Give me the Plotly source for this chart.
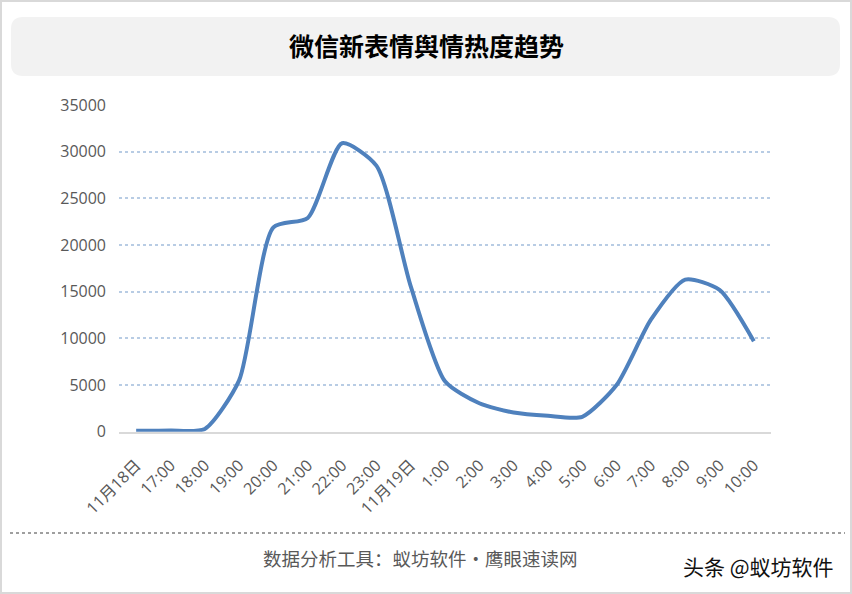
import plotly.graph_objects as go

W, H = 852, 594

categories = ["11月18日", "17:00", "18:00", "19:00", "20:00", "21:00", "22:00", "23:00",
              "11月19日", "1:00", "2:00", "3:00", "4:00", "5:00", "6:00", "7:00",
              "8:00", "9:00", "10:00"]
heat = [100, 120, 300, 5500, 21900, 22900, 30900, 28500,
        15600, 5400, 3050, 2050, 1700, 1600, 5000, 12000,
        16300, 15200, 9700]
y_ticks = [0, 5000, 10000, 15000, 20000, 25000, 30000, 35000]

title_text = "微信新表情舆情热度趋势"
footer_text = "数据分析工具：蚁坊软件・鹰眼速读网"
watermark_text = "头条 @蚁坊软件"


def px(x):
    return x / W


def py(y):
    return 1 - y / H


def rounded_rect(x0, y0, x1, y1, r):
    return (
        f"M {px(x0 + r)} {py(y0)} "
        f"L {px(x1 - r)} {py(y0)} "
        f"Q {px(x1)} {py(y0)} {px(x1)} {py(y0 + r)} "
        f"L {px(x1)} {py(y1 - r)} "
        f"Q {px(x1)} {py(y1)} {px(x1 - r)} {py(y1)} "
        f"L {px(x0 + r)} {py(y1)} "
        f"Q {px(x0)} {py(y1)} {px(x0)} {py(y1 - r)} "
        f"L {px(x0)} {py(y0 + r)} "
        f"Q {px(x0)} {py(y0)} {px(x0 + r)} {py(y0)} Z"
    )


fig = go.Figure()
fig.add_trace(go.Scatter(
    x=list(range(len(categories))), y=heat, mode="lines",
    line=dict(color="#4f81bd", width=4, shape="spline", smoothing=0.65),
    hoverinfo="skip", showlegend=False,
))

plot_x0, plot_x1 = 119, 771
plot_y0, plot_y1 = 105, 431.7

fig.update_layout(
    template="none",
    width=W, height=H,
    margin=dict(l=0, r=0, t=0, b=0, autoexpand=False),
    paper_bgcolor="white", plot_bgcolor="white",
    font=dict(family="Open Sans, Noto Sans CJK SC, sans-serif", color="#595959"),
    xaxis=dict(
        domain=[px(plot_x0), px(plot_x1)],
        range=[-0.5, len(categories) - 0.5],
        tickmode="array", tickvals=list(range(len(categories))), ticktext=categories,
        tickangle=-45, tickfont=dict(size=16, color="#595959",
                                     family="Open Sans, Noto Sans CJK SC, sans-serif"),
        showgrid=False, zeroline=False, automargin=False,
        showline=True, linecolor="#d9d9d9", linewidth=2,
        ticks="", ticklabelstandoff=16, fixedrange=True,
    ),
    yaxis=dict(
        domain=[py(plot_y1), py(plot_y0)],
        range=[0, 35000],
        tickmode="array", tickvals=y_ticks, ticktext=[str(v) for v in y_ticks],
        tickfont=dict(size=16, color="#595959"),
        showgrid=True, gridcolor="#b8cce4", griddash="dot", gridwidth=1.6,
        zeroline=False, showline=False, ticks="", ticklabelstandoff=12,
        automargin=False, fixedrange=True,
    ),
    shapes=[
        dict(type="rect", xref="paper", yref="paper",
             x0=px(1), y0=py(1), x1=px(W - 1), y1=py(H - 1),
             line=dict(color="#d9d9d9", width=2), fillcolor="rgba(0,0,0,0)", layer="below"),
        dict(type="path", xref="paper", yref="paper",
             path=rounded_rect(11, 17, 840, 76, 12),
             fillcolor="#f2f2f2", line=dict(width=0), layer="below"),
        dict(type="line", xref="paper", yref="paper",
             x0=px(10), x1=px(845), y0=py(533), y1=py(533),
             line=dict(color="#404040", width=1.2, dash="dot")),
    ],
    annotations=[
        dict(text=f"<b>{title_text}</b>", xref="paper", yref="paper",
             x=px(426), y=py(45), xanchor="center", yanchor="middle", showarrow=False,
             font=dict(size=25, color="#000000", family="Noto Sans CJK SC, sans-serif")),
        dict(text=footer_text, xref="paper", yref="paper",
             x=px(420), y=py(558), xanchor="center", yanchor="middle", showarrow=False,
             font=dict(size=18.5, color="#595959", family="Noto Sans CJK SC, sans-serif")),
        dict(text=watermark_text, xref="paper", yref="paper",
             x=px(836), y=py(566), xanchor="right", yanchor="middle", showarrow=False,
             font=dict(size=21, color="#111111", family="Noto Sans CJK SC, sans-serif")),
    ],
)

fig.write_html(
    "out.html",
    config={"displayModeBar": False},
    post_script="document.body.style.margin='0';document.body.style.padding='0';",
)
